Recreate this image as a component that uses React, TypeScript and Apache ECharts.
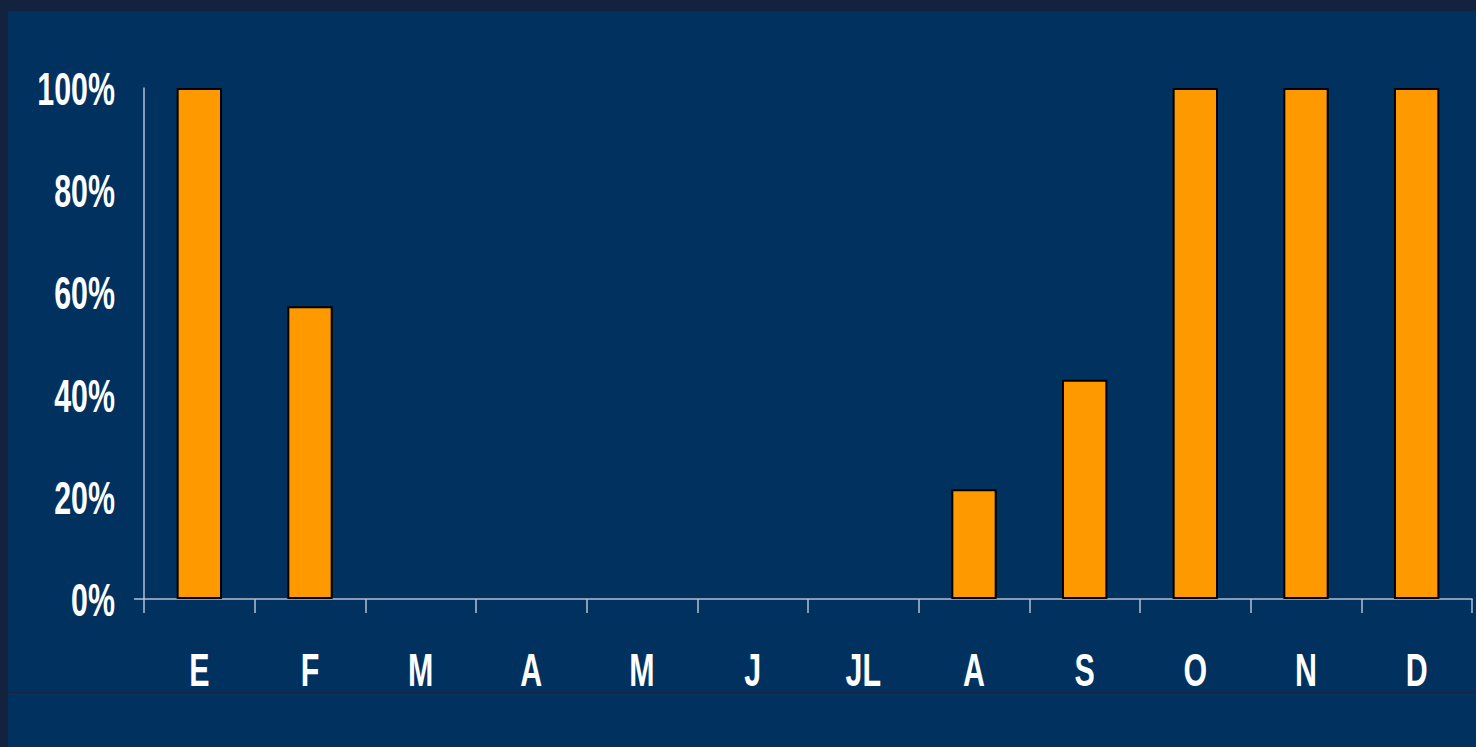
import React, { useEffect, useRef } from "react";
import * as echarts from "echarts";

const categories = ["E", "F", "M", "A", "M", "J", "JL", "A", "S", "O", "N", "D"];
const values = [100, 57.3, 0, 0, 0, 0, 0, 21.5, 42.9, 100, 100, 100];
const yTicks = [0, 20, 40, 60, 80, 100];

const FONT = "'Liberation Sans', Arial, sans-serif";
const AXIS_COLOR = "#b4c0d0";

export default function App() {
  const ref = useRef<HTMLDivElement>(null);
  useEffect(() => {
    if (!ref.current) return;
    const chart = echarts.init(ref.current, undefined, { renderer: "svg" });
    chart.setOption({
      animation: false,
      backgroundColor: "transparent",
      grid: { left: 136, right: 4, top: 77, bottom: 148, containLabel: false },
      xAxis: {
        type: "category",
        data: categories,
        axisLine: { lineStyle: { color: AXIS_COLOR, width: 1.5 } },
        axisTick: { show: true, length: 14, lineStyle: { color: AXIS_COLOR, width: 1.5 } },
        axisLabel: { show: false },
      },
      yAxis: {
        type: "value",
        min: 0,
        max: 100,
        interval: 20,
        axisLine: { show: true, lineStyle: { color: AXIS_COLOR, width: 1.5 } },
        axisTick: { show: false },
        splitLine: { show: false },
        axisLabel: { show: false },
      },
      series: [
        {
          type: "bar",
          data: values.map((v) => ({
            value: v,
            itemStyle: v === 0 ? { borderWidth: 0 } : undefined,
          })),
          barWidth: "41%",
          itemStyle: { color: "#ff9900", borderColor: "#000000", borderWidth: 2 },
        },
      ],
    });

    // Tall, condensed tick labels (condensed fonts are not installed, so scale text horizontally)
    const y0 = chart.convertToPixel({ yAxisIndex: 0 }, 0) as number;
    const xAxisLeft = chart.convertToPixel({ xAxisIndex: 0 }, 0) as number;
    const catStep =
      (chart.convertToPixel({ xAxisIndex: 0 }, 1) as number) - xAxisLeft;
    const axisX = xAxisLeft - catStep / 2;
    const labelStyle = {
      fill: "#ffffff",
      fontSize: 46,
      fontWeight: "bold",
      fontFamily: FONT,
    };
    const graphics: any[] = [];
    yTicks.forEach((t) => {
      graphics.push({
        type: "text",
        x: axisX - 29,
        y: (chart.convertToPixel({ yAxisIndex: 0 }, t) as number) + 1,
        scaleX: 0.66,
        silent: true,
        style: { ...labelStyle, text: `${t}%`, align: "right", verticalAlign: "middle" },
      });
    });
    categories.forEach((c, i) => {
      graphics.push({
        type: "text",
        x: chart.convertToPixel({ xAxisIndex: 0 }, i) as number,
        y: y0 + 71,
        scaleX: 0.66,
        silent: true,
        style: { ...labelStyle, text: c, align: "center", verticalAlign: "middle" },
      });
    });
    // short extension of the zero line to the left of the value axis
    graphics.push({
      type: "line",
      silent: true,
      shape: { x1: axisX - 10, y1: y0, x2: axisX, y2: y0 },
      style: { stroke: AXIS_COLOR, lineWidth: 1.5 },
    });
    chart.setOption({ graphic: graphics });

    return () => chart.dispose();
  }, []);

  return (
    <div
      style={{
        position: "fixed",
        left: 0,
        top: 0,
        width: 1476,
        height: 747,
        background: "#13233e",
        overflow: "hidden",
      }}
    >
      <div
        style={{
          position: "absolute",
          left: 8,
          top: 11,
          width: 1468,
          height: 736,
          background: "#00315f",
        }}
      >
        <div ref={ref} style={{ position: "absolute", left: 0, top: 0, width: 1468, height: 736 }} />
        <div
          style={{
            position: "absolute",
            left: 0,
            top: 681,
            width: 1468,
            height: 1,
            background: "#142540",
            zIndex: 2,
          }}
        />
      </div>
    </div>
  );
}
